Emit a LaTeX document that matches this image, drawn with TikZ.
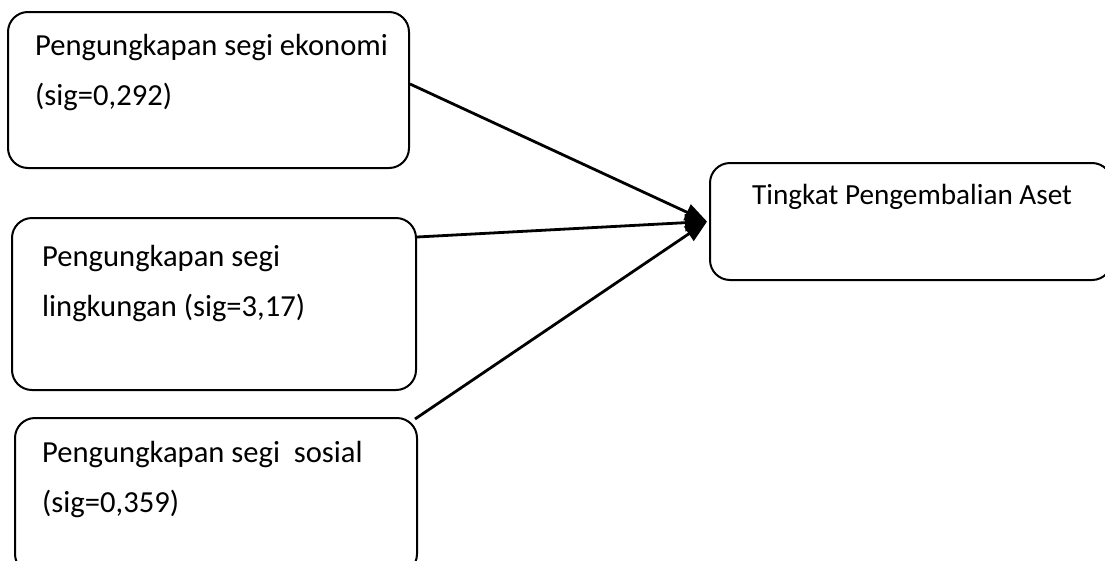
\documentclass[tikz,border=0pt]{standalone}
\usepackage{fontspec}
\setmainfont{Carlito}
\usetikzlibrary{arrows.meta}
\begin{document}
\begin{tikzpicture}[x=1pt,y=-1pt,
  box/.style={draw=black, line width=2pt, rounded corners=20pt, inner sep=0pt},
  txt/.style={font=\fontsize{30.6}{50}\selectfont, align=left, inner sep=0pt, anchor=base west},
  arr/.style={line width=2.8pt, -{Triangle[length=22pt,width=17pt]}}]
\useasboundingbox (0,0) rectangle (1105,560);
\clip (0,0) rectangle (1105,560);
\node[box, minimum width=401pt, minimum height=156pt] (b1) at (208.5,90) {};
\node[box, minimum width=404pt, minimum height=172pt] (b2) at (214,304) {};
\node[box, minimum width=402pt, minimum height=156pt] (b3) at (216,496) {};
\node[box, minimum width=402pt, minimum height=117pt] (rb) at (911,221.5) {};
\node[txt] (t1) at (35,105) {Pengungkapan segi ekonomi\\(sig=0,292)};
\node[txt] (t2) at (42,316) {Pengungkapan segi\\lingkungan (sig=3,17)};
\node[txt] (t3) at (42,512) {Pengungkapan segi\ \ sosial\\(sig=0,359)};
\node[txt, font=\fontsize{29.2}{50}\selectfont] (t4) at (752,204) {Tingkat Pengembalian Aset};
\coordinate (tip) at ([xshift=-2pt]rb.west);
\draw[arr] ([yshift=6pt]b1.east) -- (tip);
\draw[arr] ([yshift=-20pt]b2.north east) -- (tip);
\draw[arr] ([xshift=-3pt,yshift=-2pt]b3.north east) -- (tip);
\end{tikzpicture}
\end{document}
